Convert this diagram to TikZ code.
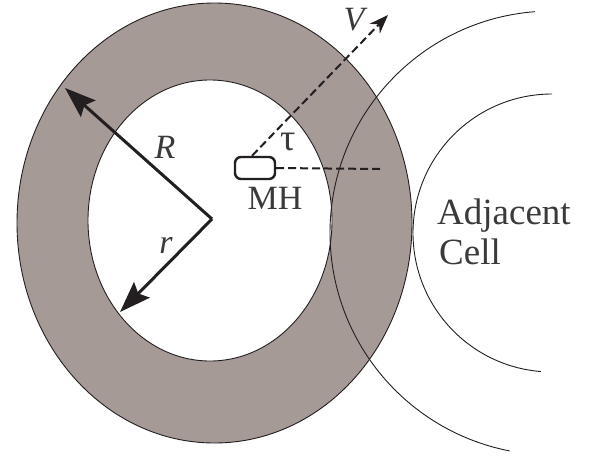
\documentclass[tikz,border=0pt]{standalone}
\usepackage{fontspec}
\setmainfont{Liberation Serif}
\usetikzlibrary{arrows.meta,calc,shapes.misc}
\definecolor{ringfill}{HTML}{A69A97}
\definecolor{ink}{HTML}{231F20}
\definecolor{txt}{HTML}{3A3A3A}
\begin{document}
\begin{tikzpicture}[x=1pt,y=-1pt,
  lbl/.style={text=txt,font=\fontsize{34}{40}\selectfont,inner sep=0pt},
  biglbl/.style={text=txt,font=\fontsize{37}{40}\selectfont,inner sep=0pt},
  thin/.style={draw=ink,line width=0.9pt},
  radius arrow/.style={draw=ink,line width=3pt,-{Stealth[length=31pt,width=22pt,inset=5pt]}},
  dashline/.style={draw=ink,line width=2pt,dash pattern=on 8pt off 4pt},
  mhbox/.style={draw=ink,line width=2.4pt,rounded corners=6pt,minimum width=40pt,minimum height=22pt,inner sep=0pt}]
\useasboundingbox (0,0) rectangle (591,455);
% ring
\fill[ringfill] (214.5,223) ellipse [x radius=197.5, y radius=220];
\fill[white] (210,220.5) ellipse [x radius=122, y radius=140.5];
\draw[thin] (214.5,223) ellipse [x radius=197.5, y radius=220];
\draw[thin] (210,220.5) ellipse [x radius=122, y radius=140.5];
% adjacent cell
\coordinate (adj) at (552,233);
\draw[thin] ([shift={(-94.4:222)}]adj) arc[start angle=-94.4, end angle=-259, radius=222];
\draw[thin] ([shift={(-90:139)}]adj) arc[start angle=-90, end angle=-265.4, radius=139];
% radii
\coordinate (O) at (212,219);
\coordinate (Rt) at (65,88);
\coordinate (rt) at (120,312);
\draw[radius arrow] (O) -- (Rt);
\draw[radius arrow] (O) -- (rt);
% MH
\node[mhbox] (mh) at (255,168) {};
\coordinate (vstart) at ($(mh.north)+(-3,0)$);
\coordinate (vtip) at (388,15);
\coordinate (hend) at (380,169);
\draw[dashline,-{Stealth[length=19pt,width=14pt]}] (vstart) -- (vtip);
\draw[dashline] (mh.east) -- (hend);
% labels
\node[lbl] (Rl) at (165,147) {\itshape R};
\node[lbl] (rl) at (166,245) {\itshape r};
\node[lbl,font=\fontsize{38}{40}\selectfont] (tau) at (288,142) {τ};
\node[lbl] (Vl) at (354,20) {\itshape V};
\node[lbl] (mhl) at (275,198) {MH};
\node[biglbl,anchor=base west] (adjl) at (437,224) {Adjacent};
\node[biglbl,anchor=base west] (celll) at (439,264) {Cell};
\end{tikzpicture}
\end{document}
